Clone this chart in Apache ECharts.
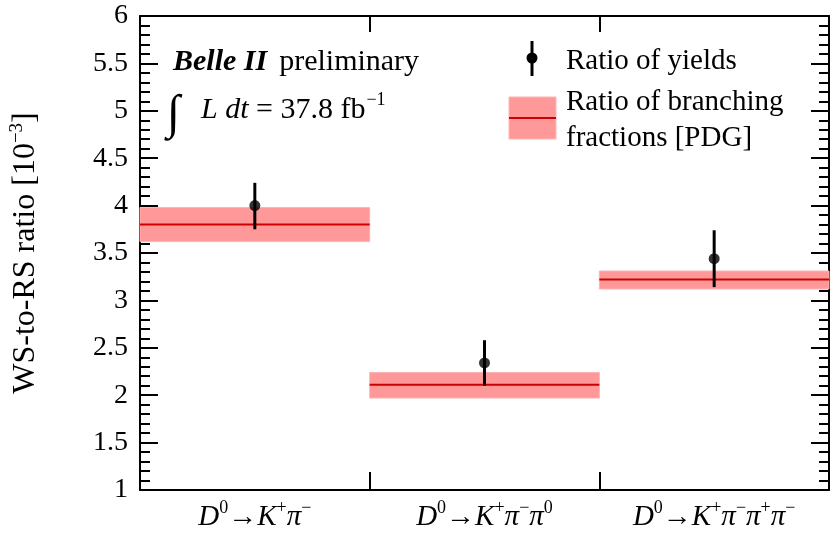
<!DOCTYPE html>
<html>
<head>
<meta charset="utf-8">
<script src="https://cdn.jsdelivr.net/npm/echarts@6/dist/echarts.min.js"></script>
<style>html,body{margin:0;padding:0;background:#fff}#c{width:830px;height:533px}</style>
</head>
<body>
<div id="c"></div>
<script>
// ---- data ----
const categories = ['Kpi', 'Kpipi0', 'K3pi'];
const categoryLabels = [
  '{i|D}{sup|0}{n|→}{i|K}{sup|+}{i|π}{sup|−}',
  '{i|D}{sup|0}{n|→}{i|K}{sup|+}{i|π}{sup|−}{i|π}{sup|0}',
  '{i|D}{sup|0}{n|→}{i|K}{sup|+}{i|π}{sup|−}{i|π}{sup|+}{i|π}{sup|−}'
];
const yieldRatio = [4.00, 2.34, 3.44];
const yieldErrLow = [3.75, 2.10, 3.14];
const yieldErrHigh = [4.24, 2.58, 3.74];
const pdgRatio = [3.80, 2.11, 3.22];
const pdgLow = [3.62, 1.97, 3.12];
const pdgHigh = [3.98, 2.24, 3.31];
const yMin = 1, yMax = 6, yStep = 0.5;

const serif = '"Liberation Serif","DejaVu Serif",serif';
const chart = echarts.init(document.getElementById('c'), null, {renderer: 'canvas'});

const bandData = categories.map((c, i) => [i, pdgRatio[i], pdgLow[i], pdgHigh[i]]);
const errData = categories.map((c, i) => [i, yieldRatio[i], yieldErrLow[i], yieldErrHigh[i]]);
const ptData = categories.map((c, i) => [i, yieldRatio[i]]);

const richLabel = {
  i: {fontFamily: serif, fontStyle: 'italic', fontSize: 29, color: '#000', lineHeight: 34, verticalAlign: 'bottom'},
  n: {fontFamily: serif, fontSize: 29, color: '#000', lineHeight: 34, verticalAlign: 'bottom'},
  sup: {fontFamily: serif, fontSize: 18, color: '#000', lineHeight: 34, verticalAlign: 'top', padding: [1, 0, 0, 0]}
};

const option = {
  animation: false,
  backgroundColor: '#fff',
  grid: {left: 140, right: 1, top: 16, bottom: 43, containLabel: false},
  xAxis: [{
    type: 'category', data: categories, boundaryGap: true, position: 'bottom',
    axisLine: {lineStyle: {color: '#000', width: 2}},
    axisTick: {show: true, inside: true, length: 18, alignWithLabel: false, interval: 0, lineStyle: {color: '#000', width: 2}},
    axisLabel: {margin: 8, interval: 0, formatter: (v, idx) => categoryLabels[idx], rich: richLabel},
    splitLine: {show: false}
  }, {
    type: 'category', data: categories, boundaryGap: true, position: 'top',
    axisLine: {lineStyle: {color: '#000', width: 2}},
    axisTick: {show: true, inside: true, length: 16, interval: 0, lineStyle: {color: '#000', width: 2}},
    axisLabel: {show: false}, splitLine: {show: false}
  }],
  yAxis: [{
    type: 'value', min: yMin, max: yMax, interval: yStep, position: 'left',
    name: 'WS-to-RS ratio [10{sup|−3}]',
    nameLocation: 'middle', nameGap: 96,
    nameTextStyle: {fontFamily: serif, fontSize: 32, color: '#000', lineHeight: 36,
      rich: {sup: {fontFamily: serif, fontSize: 19, color: '#000', verticalAlign: 'top', lineHeight: 36}}},
    axisLine: {show: true, lineStyle: {color: '#000', width: 2}},
    axisTick: {show: true, inside: true, length: 18, lineStyle: {color: '#000', width: 2}},
    minorTick: {show: true, splitNumber: 5, length: 10, lineStyle: {color: '#000', width: 2}},
    axisLabel: {fontFamily: serif, fontSize: 28, color: '#000', margin: 12},
    splitLine: {show: false}, minorSplitLine: {show: false}
  }, {
    type: 'value', min: yMin, max: yMax, interval: yStep, position: 'right',
    axisLine: {show: true, lineStyle: {color: '#000', width: 2}},
    axisTick: {show: true, inside: true, length: 18, lineStyle: {color: '#000', width: 2}},
    minorTick: {show: true, splitNumber: 5, length: 10, lineStyle: {color: '#000', width: 2}},
    axisLabel: {show: false}, splitLine: {show: false}
  }],
  series: [{
    type: 'custom', name: 'pdg', data: bandData, z: 2,
    renderItem: (params, api) => {
      const w = api.size([1, 0])[0];
      const hi = api.coord([api.value(0), api.value(3)]);
      const lo = api.coord([api.value(0), api.value(2)]);
      const mid = api.coord([api.value(0), api.value(1)]);
      return {type: 'group', children: [
        {type: 'rect', shape: {x: hi[0] - w / 2, y: hi[1], width: w, height: lo[1] - hi[1]},
         style: {fill: '#ff9999', stroke: '#ffb3b3', lineWidth: 1}},
        {type: 'line', shape: {x1: mid[0] - w / 2, y1: mid[1], x2: mid[0] + w / 2, y2: mid[1]},
         style: {stroke: '#cc0000', lineWidth: 2}}
      ]};
    }
  }, {
    type: 'custom', name: 'err', data: errData, z: 3,
    renderItem: (params, api) => {
      const hi = api.coord([api.value(0), api.value(3)]);
      const lo = api.coord([api.value(0), api.value(2)]);
      return {type: 'line', shape: {x1: hi[0], y1: hi[1], x2: lo[0], y2: lo[1]},
        style: {stroke: '#000', lineWidth: 3}};
    }
  }, {
    type: 'scatter', name: 'yields', data: ptData, z: 4,
    symbol: 'circle', symbolSize: 11, itemStyle: {color: '#000'}
  }],
  graphic: [
    {type: 'text', x: 173, y: 62, style: {
      text: '{b|Belle II}{n|preliminary}', verticalAlign: 'middle',
      rich: {b: {fontFamily: serif, fontSize: 30, fontWeight: 'bold', fontStyle: 'italic', fill: '#000'},
             n: {fontFamily: serif, fontSize: 30, fill: '#000', padding: [0, 0, 0, 12]}}}},
    {type: 'text', x: 167, y: 115, style: {text: '∫', font: 'italic 48px ' + serif, fill: '#000', verticalAlign: 'middle'}},
    {type: 'text', x: 201, y: 108, style: {
      text: '{i|L dt}{n| = 37.8 fb}{sup|−1}', verticalAlign: 'middle',
      rich: {i: {fontFamily: serif, fontSize: 30, fontStyle: 'italic', fill: '#000', lineHeight: 34, verticalAlign: 'bottom'},
             n: {fontFamily: serif, fontSize: 30, fill: '#000', lineHeight: 34, verticalAlign: 'bottom'},
             sup: {fontFamily: serif, fontSize: 18, fill: '#000', lineHeight: 34, verticalAlign: 'top', padding: [0, 0, 0, 1]}}}},
    // legend
    {type: 'line', shape: {x1: 532, y1: 41, x2: 532, y2: 76}, style: {stroke: '#000', lineWidth: 3}},
    {type: 'circle', shape: {cx: 532, cy: 58, r: 5.5}, style: {fill: '#000'}},
    {type: 'text', x: 566, y: 61, style: {text: 'Ratio of yields', font: '29px ' + serif, fill: '#000', verticalAlign: 'middle'}},
    {type: 'rect', shape: {x: 509, y: 97, width: 47, height: 42}, style: {fill: '#ff9999', stroke: '#ffb3b3', lineWidth: 1}},
    {type: 'line', shape: {x1: 509, y1: 118, x2: 556, y2: 118}, style: {stroke: '#cc0000', lineWidth: 2}},
    {type: 'text', x: 566, y: 102, style: {text: 'Ratio of branching', font: '29px ' + serif, fill: '#000', verticalAlign: 'middle'}},
    {type: 'text', x: 566, y: 138, style: {text: 'fractions [PDG]', font: '29px ' + serif, fill: '#000', verticalAlign: 'middle'}}
  ]
};
chart.setOption(option);
</script>
</body>
</html>
